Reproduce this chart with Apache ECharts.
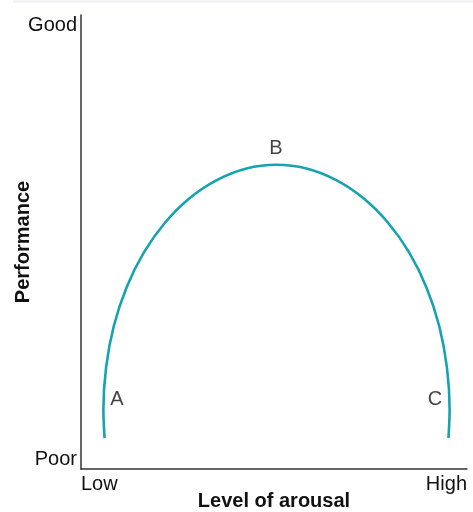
<!DOCTYPE html>
<html>
<head>
<meta charset="utf-8">
<script src="https://cdn.jsdelivr.net/npm/echarts@6/dist/echarts.min.js"></script>
<style>
html,body{margin:0;padding:0;background:#fff;}
#chart{width:473px;height:512px;}
</style>
</head>
<body>
<div id="chart"></div>
<script>
// Level of arousal (0 = Low, 100 = High)
var arousal = [6.1, 5.8, 6.5, 8.5, 11.8, 16.3, 21.8, 28.2, 35.3, 42.9, 50.6,
               58.4, 66.0, 73.1, 79.5, 85.0, 89.5, 92.8, 94.8, 95.5, 95.2];
// Performance (0 = Poor, 100 = Good)
var performance = [6.8, 13.0, 22.4, 31.5, 40.0, 47.7, 54.3, 59.7, 63.7, 66.2, 67.0,
                   66.2, 63.7, 59.7, 54.3, 47.7, 40.0, 31.5, 22.4, 13.0, 6.8];
var pointNames = ['A', 'B', 'C'];
var pointX = [9.3, 50.5, 91.7];
var pointY = [15.4, 70.7, 15.4];
var xTickLabels = {0: 'Low', 100: 'High'};
var yTickLabels = {0: 'Poor', 100: 'Good'};
var xName = 'Level of arousal';
var yName = 'Performance';

var curve = arousal.map(function (x, i) { return [x, performance[i]]; });
var pts = pointNames.map(function (n, i) { return {name: n, value: [pointX[i], pointY[i]]}; });

var chart = echarts.init(document.getElementById('chart'), null, {renderer: 'canvas'});
var font = 'Liberation Sans, Arial, Helvetica, sans-serif';
chart.setOption({
  animation: false,
  backgroundColor: '#ffffff',
  textStyle: {fontFamily: font},
  graphic: [{
    type: 'rect', left: 13, top: 0, z: -1,
    shape: {width: 460, height: 3},
    style: {fill: '#f2f5f7'}
  }],
  grid: {left: 81, right: 6, top: 15, bottom: 43, containLabel: false, outerBoundsMode: 'none'},
  xAxis: {
    type: 'value', min: 0, max: 100, interval: 100,
    name: xName, nameLocation: 'middle', nameGap: 22, nameMoveOverlap: false,
    nameTextStyle: {fontSize: 20, fontWeight: 'bold', color: '#111', fontFamily: font},
    axisLine: {show: true, lineStyle: {color: '#333', width: 1.5}},
    axisTick: {show: false},
    splitLine: {show: false},
    axisLabel: {
      margin: 5, fontSize: 20, color: '#111', fontFamily: font,
      alignMinLabel: 'left', alignMaxLabel: 'right',
      formatter: function (v) { return xTickLabels[v] || ''; }
    }
  },
  yAxis: {
    type: 'value', min: 0, max: 100, interval: 100,
    name: yName, nameLocation: 'middle', nameGap: 48, nameRotate: 90, nameMoveOverlap: false,
    nameTextStyle: {fontSize: 20, fontWeight: 'bold', color: '#111', fontFamily: font},
    axisLine: {show: true, lineStyle: {color: '#333', width: 1.5}},
    axisTick: {show: false},
    splitLine: {show: false},
    axisLabel: {
      margin: 4, fontSize: 20, color: '#111', fontFamily: font,
      verticalAlignMinLabel: 'bottom', verticalAlignMaxLabel: 'top',
      formatter: function (v) { return yTickLabels[v] || ''; }
    }
  },
  series: [{
    type: 'line',
    data: curve,
    smooth: 0.3,
    symbol: 'none',
    lineStyle: {color: '#16a3b0', width: 2.6},
    z: 2
  }, {
    type: 'scatter',
    data: pts,
    symbolSize: 0,
    label: {
      show: true, position: 'inside', formatter: '{b}',
      fontSize: 20, color: '#111', fontFamily: font
    },
    z: 3
  }]
});
</script>
</body>
</html>
